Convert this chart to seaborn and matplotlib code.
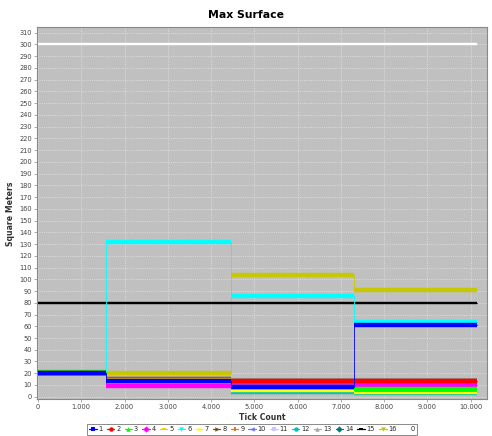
import matplotlib
matplotlib.use("Agg")
import numpy as np
import pandas as pd
import seaborn as sns
import matplotlib.pyplot as plt
from matplotlib.lines import Line2D
from matplotlib.ticker import FuncFormatter, MultipleLocator

# Tick counts at which the surfaces were sampled
tick_count = [0, 1560, 4460, 7310, 10140]

# Max surface (square meters) per group, value held until the next tick
s1 = [20, 13, 8, 61, 61]
s2 = [20, 13, 13, 13, 13]
s3 = [21, 13, 8, 6.5, 6.5]
s4 = [20, 9.5, 11, 10, 10]
s5 = [20, 15.5, 13, 13, 13]
s6 = [20, 132, 86, 63.5, 63.5]
s7 = [20, 13, 5, 3.5, 3.5]
s8 = [20, 15, 13, 13, 13]
s9 = [20, 15, 13, 13, 13]
s10 = [20, 14, 13, 13, 13]
s11 = [20, 12, 10, 10, 10]
s12 = [20, 13, 4, 3, 3]
s13 = [20, 13, 13, 13, 13]
s14 = [20, 13, 13, 13, 13]
s15 = [80, 80, 80, 80, 80]
s16 = [20, 20, 104, 91, 91]
s0 = [300, 300, 300, 300, 300]

series_names = ["1", "2", "3", "4", "5", "6", "7", "8", "9", "10",
                "11", "12", "13", "14", "15", "16", "0"]
series_values = [s1, s2, s3, s4, s5, s6, s7, s8, s9, s10,
                 s11, s12, s13, s14, s15, s16, s0]

colors = ["#0000FF", "#FF0000", "#00FF00", "#FF00FF", "#FFC800", "#00FFFF",
          "#FFFF00", "#7A4A1A", "#E07820", "#7070FF", "#C8C8FF", "#00C0C0",
          "#A8A8A8", "#007878", "#000000", "#C8C800", "#FFFFFF"]

# marker shapes in the usual rotating sequence
t = np.linspace(0, 2 * np.pi, 25)
h_rect = [(-1, -0.5), (1, -0.5), (1, 0.5), (-1, 0.5)]
v_rect = [(-0.5, -1), (0.5, -1), (0.5, 1), (-0.5, 1)]
h_ell = list(zip(np.cos(t), 0.5 * np.sin(t)))
shape_cycle = ["s", "o", "^", "D", h_rect, "v", h_ell, ">", v_rect, "<"]
flat_shapes = {4, 6}  # shapes that are only half as tall

records = []
for name, vals in zip(series_names, series_values):
    for x, y in zip(tick_count, vals):
        records.append({"series": name, "tick": x, "surface": y})
df = pd.DataFrame(records)

sns.set_theme(style="white")
plt.rcParams["font.family"] = ["DejaVu Sans"]

fig = plt.figure(figsize=(4.92, 4.36), dpi=100)
ax = fig.add_axes([37 / 492, 1 - 399.3 / 436, (487 - 37) / 492, (399.3 - 27.3) / 436])
ax.set_facecolor("#C0C0C0")

# later series are drawn first so that series "1" ends up on top
draw_order = list(range(len(series_names)))[::-1]
z = 3
for i in draw_order:
    name = series_names[i]
    sub = df[df["series"] == name]
    c = colors[i]
    shape_idx = i % 10
    band_px = 2.4 if shape_idx in flat_shapes else 4.4
    band_pt = band_px * 72 / 100
    xs = sub["tick"].to_numpy()
    ys = sub["surface"].to_numpy()
    sns.lineplot(x=xs, y=ys, ax=ax, color=c, linewidth=0.6,
                 drawstyle="steps-post", estimator=None, sort=False,
                 legend=False, zorder=z)
    ax.hlines(ys[:-1], xs[:-1], xs[1:], colors=c, linewidth=band_pt,
              zorder=z + 0.5)
    z += 1

ax.set_xlim(-23, 10376)
ax.set_ylim(-2.2, 314.6)
ax.xaxis.set_major_locator(MultipleLocator(1000))
ax.yaxis.set_major_locator(MultipleLocator(10))
ax.xaxis.set_major_formatter(FuncFormatter(lambda v, p: f"{int(v):,}".replace(",", ".")))
ax.grid(True, color="#EEEEEE", linestyle=(0, (1.5, 2)), linewidth=0.45)
ax.set_axisbelow(True)

for side in ["top", "right", "left", "bottom"]:
    ax.spines[side].set_color("#888888")
    ax.spines[side].set_linewidth(0.8)

ax.tick_params(axis="both", which="major", labelsize=4.8, labelcolor="#444444",
               length=2, width=0.5, color="#888888", pad=1.5, direction="out",
               bottom=True, left=True)

ax.set_xlabel("Tick Count", fontsize=5.6, fontweight="bold", color="#333333", labelpad=2)
ax.set_ylabel("Square Meters", fontsize=5.6, fontweight="bold", color="#333333", labelpad=3)
fig.text(0.5, 1 - 15 / 436, "Max Surface", ha="center", va="center",
         fontsize=7.8, fontweight="bold", color="black")

handles = []
for i, name in enumerate(series_names):
    handles.append(Line2D([0], [0], color=colors[i], linewidth=0.9,
                          marker=shape_cycle[i % 10], markersize=3.2,
                          markeredgewidth=0))
leg = fig.legend(handles, series_names, ncol=17, loc="upper center",
                 bbox_to_anchor=(252 / 492, 1 - 424 / 436), fontsize=4.8,
                 frameon=True, fancybox=False, handlelength=1.1,
                 handletextpad=0.3, columnspacing=0.62, borderpad=0.35,
                 borderaxespad=0)
leg.get_frame().set_edgecolor("#555555")
leg.get_frame().set_linewidth(0.6)

fig.savefig("out.png", dpi=100)
